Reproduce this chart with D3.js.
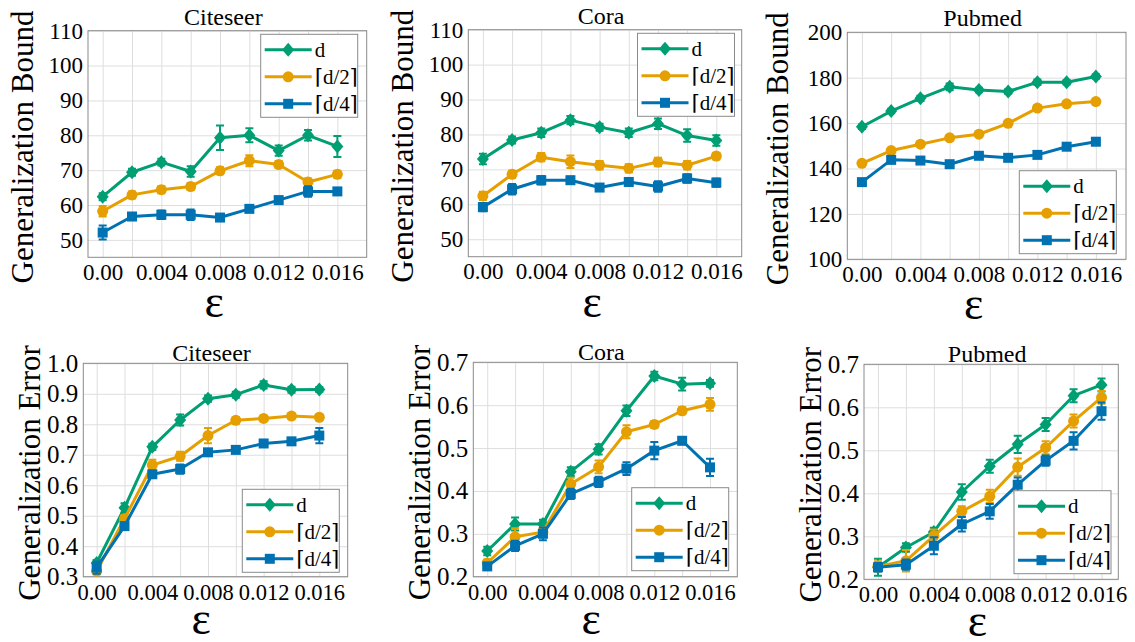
<!DOCTYPE html>
<html>
<head>
<meta charset="utf-8">
<script src="https://cdn.jsdelivr.net/npm/d3@7"></script>
<style>
  body { margin: 0; background: #fff; }
  svg { display: block; }
  svg text { font-family: "Liberation Serif", "Times New Roman", "DejaVu Serif", serif; }
</style>
</head>
<body>
<svg id="chart" width="1135" height="642"></svg>
<script>
// epsilon values on the x axis
const eps = [0, 0.002, 0.004, 0.006, 0.008, 0.010, 0.012, 0.014, 0.016];
const xTickValues = [0, 0.004, 0.008, 0.012, 0.016];
const xTickLabels = ["0.00", "0.004", "0.008", "0.012", "0.016"];
const seriesNames = ["d", "\u2308d/2\u2309", "\u2308d/4\u2309"];
const datasets = ["Citeseer", "Cora", "Pubmed"];

// generalization bound, rows: d, d/2, d/4
const citeseerBound = [
  [62.4, 69.4, 72.3, 69.6, 79.3, 80.0, 75.6, 80.0, 76.8],
  [58.2, 62.9, 64.4, 65.3, 69.8, 72.7, 71.6, 66.6, 68.8],
  [52.1, 56.7, 57.2, 57.2, 56.4, 58.9, 61.4, 63.9, 63.9]
];
const citeseerBoundErr = [
  [1.0, 1.0, 1.0, 1.5, 3.5, 2.0, 1.5, 1.5, 3.0],
  [1.5, 1.0, 1.0, 1.0, 1.0, 1.6, 1.0, 1.0, 1.0],
  [2.0, 1.0, 1.2, 1.5, 1.0, 0.8, 1.0, 1.5, 1.0]
];
const coraBound = [
  [73.0, 78.4, 80.5, 84.1, 82.1, 80.5, 83.1, 79.7, 78.3],
  [62.4, 68.6, 73.5, 72.2, 71.2, 70.3, 72.1, 71.2, 73.8],
  [59.2, 64.3, 66.9, 66.9, 64.8, 66.4, 65.1, 67.4, 66.2]
];
const coraBoundErr = [
  [1.5, 1.0, 1.2, 1.2, 1.0, 1.2, 1.5, 1.8, 1.5],
  [1.2, 1.0, 1.2, 1.8, 1.2, 1.2, 1.2, 1.2, 1.0],
  [1.2, 1.5, 1.2, 1.0, 1.0, 1.0, 1.5, 1.2, 1.2]
];
const pubmedBound = [
  [158.4, 165.3, 170.9, 176.0, 174.6, 173.9, 178.0, 178.0, 180.5],
  [142.3, 147.9, 150.7, 153.5, 155.1, 159.9, 166.6, 168.5, 169.5],
  [134.0, 143.8, 143.5, 141.9, 145.6, 144.7, 146.0, 149.6, 151.8]
];
const pubmedBoundErr = [
  [1.0, 1.0, 1.2, 1.5, 1.0, 1.0, 1.2, 1.0, 1.0],
  [1.0, 1.0, 1.0, 1.0, 1.0, 1.0, 1.2, 1.0, 1.0],
  [1.2, 1.0, 1.0, 1.0, 1.0, 1.0, 1.0, 1.0, 1.0]
];

// generalization error, rows: d, d/2, d/4
const citeseerError = [
  [0.345, 0.526, 0.726, 0.814, 0.884, 0.897, 0.929, 0.913, 0.914],
  [0.318, 0.490, 0.666, 0.695, 0.763, 0.813, 0.819, 0.827, 0.823],
  [0.330, 0.466, 0.636, 0.653, 0.708, 0.716, 0.737, 0.744, 0.763]
];
const citeseerErrorErr = [
  [0.010, 0.015, 0.010, 0.018, 0.010, 0.010, 0.012, 0.010, 0.008],
  [0.010, 0.012, 0.018, 0.015, 0.025, 0.010, 0.008, 0.008, 0.008],
  [0.020, 0.010, 0.010, 0.015, 0.010, 0.010, 0.010, 0.010, 0.025]
];
const coraError = [
  [0.260, 0.323, 0.323, 0.445, 0.497, 0.587, 0.668, 0.649, 0.651],
  [0.232, 0.293, 0.304, 0.416, 0.456, 0.538, 0.555, 0.587, 0.602],
  [0.224, 0.272, 0.300, 0.393, 0.421, 0.452, 0.494, 0.517, 0.455]
];
const coraErrorErr = [
  [0.010, 0.015, 0.010, 0.010, 0.012, 0.012, 0.010, 0.015, 0.008],
  [0.008, 0.020, 0.010, 0.015, 0.015, 0.015, 0.008, 0.008, 0.015],
  [0.008, 0.012, 0.015, 0.012, 0.012, 0.015, 0.020, 0.008, 0.020]
];
const pubmedError = [
  [0.228, 0.274, 0.310, 0.403, 0.463, 0.514, 0.560, 0.627, 0.652],
  [0.230, 0.243, 0.301, 0.358, 0.393, 0.461, 0.506, 0.568, 0.623],
  [0.228, 0.234, 0.278, 0.328, 0.358, 0.420, 0.476, 0.522, 0.591]
];
const pubmedErrorErr = [
  [0.020, 0.010, 0.010, 0.018, 0.015, 0.020, 0.015, 0.015, 0.015],
  [0.012, 0.025, 0.015, 0.012, 0.015, 0.020, 0.015, 0.015, 0.015],
  [0.010, 0.012, 0.020, 0.017, 0.017, 0.017, 0.012, 0.020, 0.020]
];

const boundTicks = [50, 60, 70, 80, 90, 100, 110];
const pubmedBoundTicks = [100, 120, 140, 160, 180, 200];
const citeseerErrorTicks = [0.3, 0.4, 0.5, 0.6, 0.7, 0.8, 0.9, 1.0];
const errorTicks = [0.2, 0.3, 0.4, 0.5, 0.6, 0.7];

const colors = ["#009E73", "#E69F00", "#0072B2"];
const markers = ["diamond", "circle", "square"];

// panel geometry
const panels = [
  { title: datasets[0], yLabel: "Generalization Bound", values: citeseerBound, errors: citeseerBoundErr,
    yTicks: boundTicks, yFmt: d3.format("d"), yDomain: [45, 110], xDomain: [-0.001, 0.018],
    box: [88, 30.7, 366.7, 257.3], yLabelX: 33, legend: [260.7, 34.3], xFont: 23, yFont: 23, top: true },
  { title: datasets[1], yLabel: "Generalization Bound", values: coraBound, errors: coraBoundErr,
    yTicks: boundTicks, yFmt: d3.format("d"), yDomain: [45, 110], xDomain: [-0.001, 0.01774],
    box: [468.3, 29.7, 741.7, 256.7], yLabelX: 413, legend: [637.5, 33.3], xFont: 23, yFont: 23, top: true },
  { title: datasets[2], yLabel: "Generalization Bound", values: pubmedBound, errors: pubmedBoundErr,
    yTicks: pubmedBoundTicks, yFmt: d3.format("d"), yDomain: [100, 200], xDomain: [-0.001, 0.01806],
    box: [847.3, 32.3, 1126, 259.3], yLabelX: 788, legend: [1019.3, 170.7], xFont: 23, yFont: 23, top: true },
  { title: datasets[0], yLabel: "Generalization Error", values: citeseerError, errors: citeseerErrorErr,
    yTicks: citeseerErrorTicks, yFmt: d3.format(".1f"), yDomain: [0.3, 1.0], xDomain: [-0.00096, 0.01804],
    box: [83.3, 363.3, 347.7, 576.7], yLabelX: 40, legend: [242.3, 489.3], xFont: 22.5, yFont: 25, top: false },
  { title: datasets[1], yLabel: "Generalization Error", values: coraError, errors: coraErrorErr,
    yTicks: errorTicks, yFmt: d3.format(".1f"), yDomain: [0.2, 0.7], xDomain: [-0.001, 0.01796],
    box: [473.3, 362.3, 737.3, 576.7], yLabelX: 430, legend: [631.7, 487.7], xFont: 22.5, yFont: 25, top: false },
  { title: datasets[2], yLabel: "Generalization Error", values: pubmedError, errors: pubmedErrorErr,
    yTicks: errorTicks, yFmt: d3.format(".1f"), yDomain: [0.2, 0.7], xDomain: [-0.001, 0.0172],
    box: [864, 364.3, 1118.3, 579.3], yLabelX: 821, legend: [1014, 490.7], xFont: 22.5, yFont: 25, top: false }
];

const svg = d3.select("#chart");

function drawMarker(g, type, cx, cy, color) {
  if (type === "diamond") {
    g.append("path")
      .attr("d", `M${cx},${cy - 7}L${cx + 6},${cy}L${cx},${cy + 7}L${cx - 6},${cy}Z`)
      .attr("fill", color);
  } else if (type === "circle") {
    g.append("circle").attr("cx", cx).attr("cy", cy).attr("r", 5.5).attr("fill", color);
  } else {
    g.append("rect").attr("x", cx - 5).attr("y", cy - 5).attr("width", 10).attr("height", 10).attr("fill", color);
  }
}

function drawPanel(p) {
  const [l, t, r, b] = p.box;
  const x = d3.scaleLinear().domain(p.xDomain).range([l, r]);
  const y = d3.scaleLinear().domain(p.yDomain).range([b, t]);
  const g = svg.append("g");

  // grid
  g.append("g")
    .attr("transform", `translate(0,${b})`)
    .call(d3.axisBottom(x).tickValues(eps).tickSize(-(b - t)).tickFormat(""))
    .call(a => a.select(".domain").remove())
    .call(a => a.selectAll("line").attr("stroke", "#dedede").attr("stroke-width", 1));
  g.append("g")
    .attr("transform", `translate(${l},0)`)
    .call(d3.axisLeft(y).tickValues(p.yTicks).tickSize(-(r - l)).tickFormat(""))
    .call(a => a.select(".domain").remove())
    .call(a => a.selectAll("line").attr("stroke", "#dedede").attr("stroke-width", 1));

  // tick labels
  g.append("g")
    .attr("transform", `translate(0,${b})`)
    .call(d3.axisBottom(x).tickValues(xTickValues).tickSize(0).tickPadding(p.top ? 6 : 7)
      .tickFormat((d, i) => xTickLabels[i]))
    .attr("font-family", null).attr("font-size", p.xFont)
    .call(a => a.select(".domain").remove())
    .call(a => a.selectAll("text").attr("fill", "#000"));
  g.append("g")
    .attr("transform", `translate(${l},0)`)
    .call(d3.axisLeft(y).tickValues(p.yTicks).tickSize(0).tickPadding(5).tickFormat(p.yFmt))
    .attr("font-family", null).attr("font-size", p.yFont)
    .call(a => a.select(".domain").remove())
    .call(a => a.selectAll("text").attr("fill", "#000"));

  // frame
  g.append("rect")
    .attr("x", l).attr("y", t).attr("width", r - l).attr("height", b - t)
    .attr("fill", "none").attr("stroke", "#8a8a8a").attr("stroke-width", 1);

  // series
  const line = d3.line().x((d, i) => x(eps[i])).y(d => y(d));
  p.values.forEach((vals, s) => {
    const sg = g.append("g");
    sg.append("path")
      .datum(vals)
      .attr("fill", "none")
      .attr("stroke", colors[s])
      .attr("stroke-width", 3)
      .attr("stroke-linejoin", "round")
      .attr("d", line);
    vals.forEach((v, i) => {
      const e = p.errors[s][i];
      const cx = x(eps[i]);
      sg.append("path")
        .attr("d", `M${cx},${y(v - e)}V${y(v + e)}M${cx - 4},${y(v - e)}H${cx + 4}M${cx - 4},${y(v + e)}H${cx + 4}`)
        .attr("stroke", colors[s]).attr("stroke-width", 2).attr("fill", "none");
      drawMarker(sg, markers[s], cx, y(v), colors[s]);
    });
  });

  // title and axis labels
  g.append("text")
    .attr("x", (l + r) / 2 - 4).attr("y", p.top ? t - 6 : t - 2)
    .attr("text-anchor", "middle").attr("font-size", 24)
    .text(p.title);
  g.append("text")
    .attr("transform", `translate(${p.yLabelX},${(t + b) / 2 + 3}) rotate(-90)`)
    .attr("text-anchor", "middle").attr("font-size", 31)
    .text(p.yLabel);
  g.append("text")
    .attr("x", l + (p.top ? 0.453 : 0.446) * (r - l)).attr("y", p.top ? b + 60 : b + 57)
    .attr("text-anchor", "middle").attr("font-size", 46)
    .text("\u03b5");

  // legend
  const [lx, ly] = p.legend;
  const lg = g.append("g").attr("transform", `translate(${lx},${ly})`);
  lg.append("rect").attr("width", 97).attr("height", 83)
    .attr("fill", "#fff").attr("stroke", "#8a8a8a").attr("stroke-width", 1);
  seriesNames.forEach((name, s) => {
    const ry = 15.5 + s * 27;
    lg.append("line").attr("x1", 4).attr("x2", 51).attr("y1", ry).attr("y2", ry)
      .attr("stroke", colors[s]).attr("stroke-width", 3);
    drawMarker(lg, markers[s], 27.5, ry, colors[s]);
    lg.append("text").attr("x", 54).attr("y", ry + 7).attr("font-size", 21).text(name);
  });
}

panels.forEach(drawPanel);
</script>
</body>
</html>
